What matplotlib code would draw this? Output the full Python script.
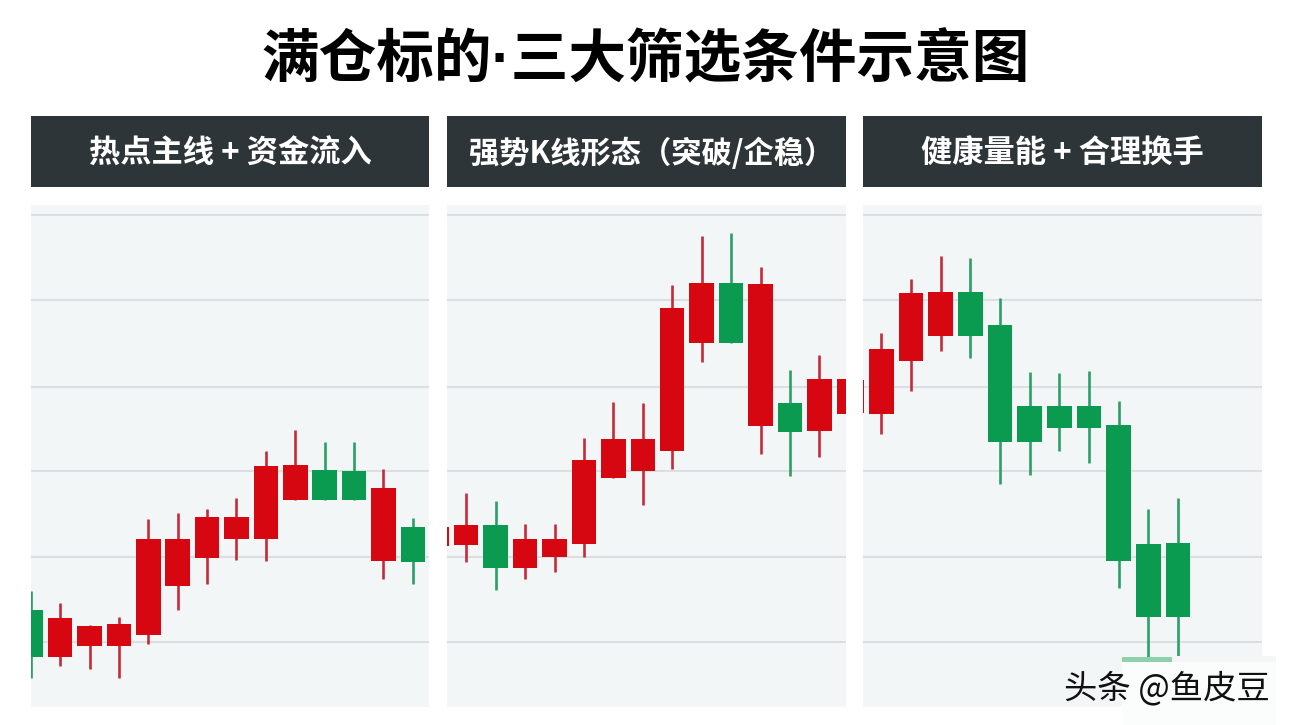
import matplotlib
matplotlib.use("Agg")
import matplotlib.pyplot as plt
from matplotlib.patches import Rectangle

plt.rcParams['font.family'] = ['Noto Sans CJK SC', 'DejaVu Sans']

W, H = 1291, 725

title = "满仓标的·三大筛选条件示意图"
headers = ["热点主线 + 资金流入", "强势K线形态（突破/企稳）", "健康量能 + 合理换手"]
watermark = "头条 @鱼皮豆"
grid_levels = [152.8, 127.7, 102.0, 77.0, 51.5, 26.3]

# Panel 1
p1_open  = [35.9, 21.8, 25.0, 25.0, 28.4, 42.8, 51.2, 56.8, 56.9, 68.5, 77.2, 76.9, 50.2, 60.3, 54.8]
p1_close = [21.8, 33.3, 31.0, 31.6, 56.8, 56.8, 63.2, 63.2, 78.4, 78.7, 68.5, 68.5, 72.0, 50.1, 60.3]
p1_high  = [41.3, 37.8, 31.2, 33.8, 62.8, 64.4, 65.8, 69.0, 82.8, 89.2, 85.5, 85.5, 77.6, 62.9, 60.3]
p1_low   = [15.7, 19.1, 18.3, 15.7, 25.8, 35.9, 43.4, 50.6, 50.2, 68.5, 68.5, 68.5, 44.9, 43.5, 54.8]

# Panel 2
p2_open  = [54.8, 54.9, 61.0, 48.3, 51.4, 55.2, 74.9, 76.9, 83.0, 114.8, 132.7, 90.4, 97.0, 88.9, 93.8]
p2_close = [60.5, 61.0, 48.3, 56.8, 56.8, 80.3, 86.5, 86.5, 125.4, 132.6, 114.8, 132.5, 88.6, 104.2, 104.3]
p2_high  = [60.5, 70.5, 68.2, 61.3, 61.3, 86.8, 97.5, 97.1, 132.2, 146.5, 147.5, 137.4, 107.0, 111.2, 104.3]
p2_low   = [54.8, 50.0, 41.7, 44.9, 46.9, 51.5, 74.9, 66.8, 77.4, 109.4, 114.8, 82.0, 75.4, 81.0, 93.8]

# Panel 3
p3_open  = [94.0, 93.9, 109.7, 116.9, 130.0, 120.3, 96.3, 96.3, 96.3, 90.7, 55.4, 55.5]
p3_close = [104.0, 113.1, 129.6, 129.9, 116.9, 85.6, 85.6, 89.8, 89.8, 50.2, 33.8, 33.8]
p3_high  = [104.0, 118.0, 134.0, 140.7, 140.0, 128.1, 106.4, 106.1, 106.6, 97.8, 65.7, 69.0]
p3_low   = [94.0, 87.9, 100.8, 112.6, 110.4, 73.0, 75.9, 82.8, 79.3, 42.4, 21.5, 21.8]

RED, GREEN = "#d60711", "#0b9b50"
WICK_RED, WICK_GREEN = "#c62a3a", "#2c9f68"
PANEL_BG, GRID = "#f3f6f7", "#dcdfe1"
HEADER_BG = "#2e3538"

fig = plt.figure(figsize=(W / 100, H / 100), dpi=100, facecolor="white")

def fx(px): return px / W
def fy(py): return 1 - py / H

def px_rect(x0, y0, x1, y1, **kw):
    fig.patches.append(Rectangle((fx(x0), fy(y1)), (x1 - x0) / W, (y1 - y0) / H,
                                 transform=fig.transFigure, **kw))

fig.text(fx(646), fy(62), title, ha="center", va="center", fontsize=41.5,
         fontweight="bold", color="black",
         family=['Liberation Sans', 'Noto Sans CJK SC'])

panels = [
    dict(x0=31, x1=429, first=30.7, step=29.4, shift=0, d=(p1_open, p1_close, p1_high, p1_low), head=headers[0]),
    dict(x0=447, x1=846, first=436.8, step=29.43, shift=5, d=(p2_open, p2_close, p2_high, p2_low), head=headers[1]),
    dict(x0=863, x1=1262, first=851.7, step=29.67, shift=0, d=(p3_open, p3_close, p3_high, p3_low), head=headers[2]),
]

for p in panels:
    x0, x1 = p["x0"], p["x1"]
    px_rect(x0, 116, x1, 187, facecolor=HEADER_BG, edgecolor="none")
    fig.text(fx((x0 + x1) / 2 + p["shift"]), fy(154), p["head"], ha="center", va="center",
             fontsize=22.5 if p["shift"] == 0 else 21.8, fontweight="bold", color="white")

    ax = fig.add_axes([fx(x0), fy(707), (x1 - x0) / W, (707 - 205) / H])
    ax.set_facecolor(PANEL_BG)
    ax.set_xlim((x0 - p["first"]) / p["step"], (x1 - p["first"]) / p["step"])
    ax.set_ylim(7.0, 155.8)
    for s in ax.spines.values():
        s.set_visible(False)
    ax.set_xticks([]); ax.set_yticks([])
    ax.hlines(grid_levels, *ax.get_xlim(), color=GRID, lw=1.5, zorder=1)

    o, c, h, l = p["d"]
    for i, (oi, ci, hi, li) in enumerate(zip(o, c, h, l)):
        up = ci >= oi
        ax.vlines(i, li, hi, color=WICK_RED if up else WICK_GREEN, lw=1.9, zorder=2)
        ax.bar(i, abs(ci - oi), bottom=min(oi, ci), width=0.83,
               color=RED if up else GREEN, zorder=3)

# Watermark patch and text
px_rect(1172, 656, 1276, 662, facecolor="#f4f6f6", edgecolor="none", zorder=5)
px_rect(1122, 662, 1276, 725, facecolor="#fbfcfc", edgecolor="none", zorder=5)
px_rect(1122, 657, 1172, 662, facecolor="#8fd0ac", edgecolor="none", zorder=6)
fig.text(fx(1167), fy(689), watermark, ha="center", va="center", fontsize=24,
         color="#111111", zorder=7)

fig.savefig("out.png", dpi=100)
